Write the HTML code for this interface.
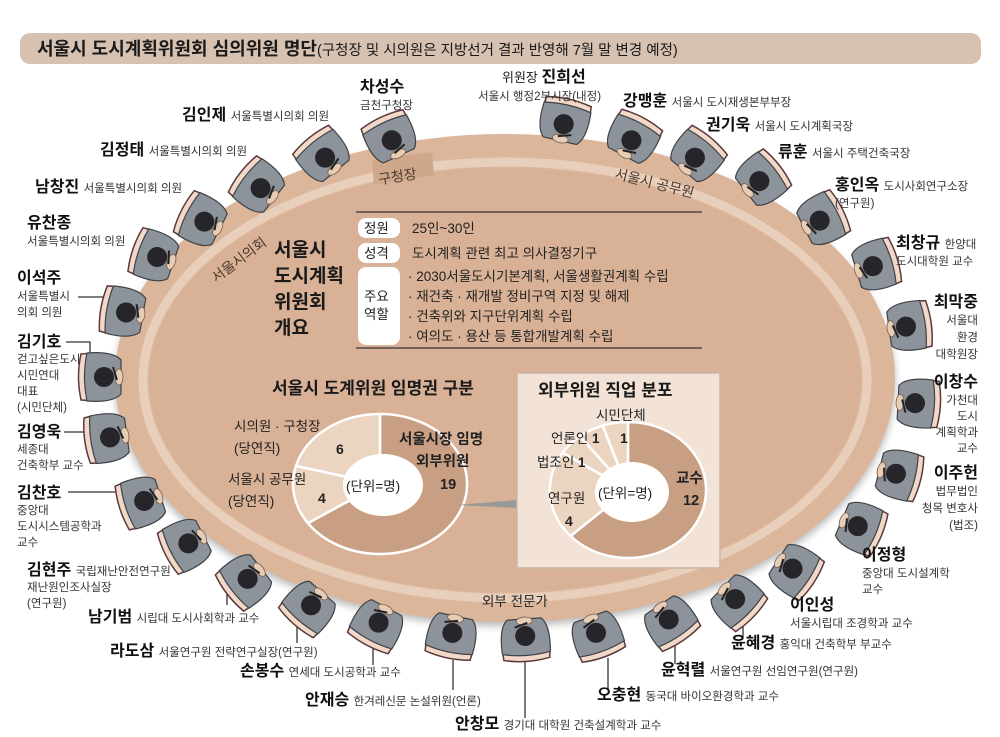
<!DOCTYPE html>
<html><head><meta charset="utf-8">
<style>
html,body{margin:0;padding:0;background:#fff;}
svg{display:block;}
text{font-family:"Liberation Sans","Noto Sans CJK KR",sans-serif;fill:#222;}
.n{font-size:16px;font-weight:bold;fill:#111;}
.d{font-size:11.5px;fill:#333;font-weight:normal;}
.t{font-size:13.5px;fill:#222;}
</style></head><body>
<svg width="1000" height="737" viewBox="0 0 1000 737" xmlns="http://www.w3.org/2000/svg">
<defs>
<g id="p">
  <path d="M-23,-26 Q-25,-6 -20,-2 L20,-2 Q25,-6 23,-26 Q0,-31 -23,-26 Z" fill="#f1d8c8" stroke="#5a3a3a" stroke-width="1.5"/>
  <path d="M-24,-20 Q-26,6 -17,14 L17,14 Q26,6 24,-20 Q0,-25 -24,-20 Z" fill="#8d939a" stroke="#3f4246" stroke-width="1.2"/>
  <circle cx="0" cy="-3" r="10" fill="#25252a"/>
  <ellipse cx="0" cy="12" rx="8" ry="4" fill="#e6cdb6" stroke="#7a5a4a" stroke-width="0.8"/>
  <line x1="-3" y1="10" x2="10" y2="6" stroke="#222" stroke-width="2"/>
</g>
<filter id="sh" x="-10%" y="-10%" width="120%" height="130%"><feGaussianBlur stdDeviation="4"/></filter>
</defs>

<rect x="20" y="33" width="961" height="31" rx="10" fill="#d7c2b1"/>
<text x="37" y="55" style="font-size:18px;font-weight:bold;fill:#1a1a1a">서울시 도시계획위원회 심의위원 명단<tspan style="font-size:14.5px;font-weight:normal">(구청장 및 시의원은 지방선거 결과 반영해 7월 말 변경 예정)</tspan></text>

<ellipse cx="505" cy="383" rx="390" ry="243" fill="#9a9a9a" filter="url(#sh)" opacity="0.7"/>
<ellipse cx="505" cy="378" rx="390" ry="244" fill="#dcb69b"/>
<ellipse cx="505" cy="380" rx="362" ry="218" fill="none" stroke="#e8cfbb" stroke-width="9"/>
<ellipse cx="505" cy="380" rx="356" ry="212" fill="#d8b196"/>
<path d="M372,160 L432,152 L434,175 L374,185 Z" fill="#cfa88c"/>
<text x="378" y="181" transform="rotate(-9 400 175)" style="font-size:14px;fill:#4a3a30">구청장</text>
<text x="612" y="186" transform="rotate(14 645 190)" style="font-size:14px;fill:#4a3a30">서울시 공무원</text>
<text x="200" y="265" transform="rotate(-37 235 250)" style="font-size:14px;fill:#4a3a30">서울시의회</text>
<text x="482" y="606" style="font-size:13.5px;fill:#222">외부 전문가</text>

<text x="274" y="256" style="font-size:19px;font-weight:bold;fill:#1a1a1a">서울시</text>
<text x="274" y="282" style="font-size:19px;font-weight:bold;fill:#1a1a1a">도시계획</text>
<text x="274" y="308" style="font-size:19px;font-weight:bold;fill:#1a1a1a">위원회</text>
<text x="274" y="334" style="font-size:19px;font-weight:bold;fill:#1a1a1a">개요</text>
<line x1="356" y1="212" x2="702" y2="212" stroke="#333" stroke-width="1.3"/>
<line x1="356" y1="348" x2="702" y2="348" stroke="#333" stroke-width="1.3"/>
<rect x="358" y="218" width="42" height="20" rx="8" fill="#fff"/>
<rect x="358" y="243" width="42" height="20" rx="8" fill="#fff"/>
<rect x="358" y="267" width="42" height="78" rx="8" fill="#fff"/>
<text x="364" y="233" class="t">정원</text>
<text x="364" y="258" class="t">성격</text>
<text x="364" y="301" class="t">주요</text>
<text x="364" y="319" class="t">역할</text>
<text x="412" y="233" class="t">25인~30인</text>
<text x="412" y="258" class="t">도시계획 관련 최고 의사결정기구</text>
<text x="408" y="281" class="t">· 2030서울도시기본계획, 서울생활권계획 수립</text>
<text x="408" y="301" class="t">· 재건축 · 재개발 정비구역 지정 및 해제</text>
<text x="408" y="321" class="t">· 건축위와 지구단위계획 수립</text>
<text x="408" y="341" class="t">· 여의도 · 용산 등 통합개발계획 수립</text>

<text x="272" y="394" style="font-size:17px;font-weight:bold;fill:#1a1a1a">서울시 도계위원 임명권 구분</text>
<g stroke="#fff" stroke-width="2.5">
<path d="M380,484 L380,414 A87,70 0 1,1 307.9,523.1 Z" fill="#c89f83"/>
<path d="M380,484 L307.9,523.1 A87,70 0 0,1 296,465.9 Z" fill="#ebd5c0"/>
<path d="M380,484 L296,465.9 A87,70 0 0,1 380,414 Z" fill="#ebd5c0"/>
</g>
<ellipse cx="383" cy="485" rx="40" ry="31" fill="#fff"/>
<text x="346" y="491" class="t">(단위=명)</text>
<text x="234" y="431" class="t">시의원 · 구청장</text>
<text x="234" y="453" class="t">(당연직)</text>
<text x="336" y="454" style="font-size:14px;font-weight:bold">6</text>
<text x="228" y="484" class="t">서울시 공무원</text>
<text x="228" y="506" class="t">(당연직)</text>
<text x="318" y="503" style="font-size:14px;font-weight:bold">4</text>
<text x="399" y="444" style="font-size:14.5px;font-weight:bold">서울시장 임명</text>
<text x="416" y="466" style="font-size:14.5px;font-weight:bold">외부위원</text>
<text x="440" y="489" style="font-size:14.5px;font-weight:bold">19</text>
<path d="M456,505 L518,500 L518,508 Z" fill="#999"/>

<rect x="517" y="373" width="203" height="195" fill="#f2e3d6" stroke="#cbb5a5" stroke-width="1.5"/>
<text x="538" y="396" style="font-size:17px;font-weight:bold;fill:#1a1a1a">외부위원 직업 분포</text>
<g stroke="#fff" stroke-width="2.5">
<path d="M628,490 L628,422 A78,68 0 1,1 570.6,536 Z" fill="#c89f83"/>
<path d="M628,490 L570.6,536 A78,68 0 0,1 562.7,452.7 Z" fill="#ebd5c0"/>
<path d="M628,490 L562.7,452.7 A78,68 0 0,1 580.1,436.3 Z" fill="#ebd5c0"/>
<path d="M628,490 L580.1,436.3 A78,68 0 0,1 602.7,425.7 Z" fill="#ebd5c0"/>
<path d="M628,490 L602.7,425.7 A78,68 0 0,1 628,422 Z" fill="#ebd5c0"/>
</g>
<ellipse cx="632" cy="492" rx="37" ry="30" fill="#fff"/>
<text x="598" y="498" class="t">(단위=명)</text>
<text x="596" y="420" class="t">시민단체</text>
<text x="551" y="443" class="t">언론인 <tspan font-weight="bold">1</tspan></text>
<text x="620" y="443" style="font-size:14px;font-weight:bold">1</text>
<text x="537" y="467" class="t">법조인 <tspan font-weight="bold">1</tspan></text>
<text x="548" y="503" class="t">연구원</text>
<text x="565" y="526" style="font-size:14px;font-weight:bold">4</text>
<text x="676" y="483" style="font-size:14.5px;font-weight:bold">교수</text>
<text x="683" y="505" style="font-size:14.5px;font-weight:bold">12</text>

<g stroke="#333" stroke-width="1.3" fill="none">
<line x1="78" y1="297" x2="110" y2="297"/>
<polyline points="66,342 90,342 90,360"/>
<line x1="64" y1="432" x2="95" y2="432"/>
<line x1="68" y1="492" x2="122" y2="492"/>
<line x1="227" y1="588" x2="227" y2="605"/>
<line x1="297" y1="625" x2="297" y2="643"/>
<line x1="373" y1="648" x2="373" y2="665"/>
<line x1="453" y1="660" x2="453" y2="690"/>
<line x1="525" y1="662" x2="525" y2="718"/>
<line x1="608" y1="658" x2="608" y2="690"/>
<line x1="675" y1="638" x2="675" y2="664"/>
<line x1="743" y1="617" x2="743" y2="637"/>
</g>

<use href="#p" transform="translate(327,160) rotate(-39)"/>
<use href="#p" transform="translate(263,190) rotate(-52)"/>
<use href="#p" transform="translate(207,223) rotate(-63)"/>
<use href="#p" transform="translate(160,258) rotate(-71)"/>
<use href="#p" transform="translate(129,313) rotate(-80)"/>
<use href="#p" transform="translate(107,377) rotate(-90)"/>
<use href="#p" transform="translate(113,437) rotate(-98)"/>
<use href="#p" transform="translate(147,500) rotate(-108)"/>
<use href="#p" transform="translate(191,542) rotate(-117)"/>
<use href="#p" transform="translate(250,577) rotate(-128)"/>
<use href="#p" transform="translate(313,603) rotate(-139)"/>
<use href="#p" transform="translate(380,620) rotate(-152)"/>
<use href="#p" transform="translate(453,630) rotate(-168)"/>
<use href="#p" transform="translate(525,633) rotate(-184)"/>
<use href="#p" transform="translate(595,630) rotate(-200)"/>
<use href="#p" transform="translate(667,617) rotate(-214)"/>
<use href="#p" transform="translate(733,597) rotate(-226)"/>
<use href="#p" transform="translate(790,567) rotate(-237)"/>
<use href="#p" transform="translate(855,525) rotate(-247)"/>
<use href="#p" transform="translate(893,473) rotate(-256)"/>
<use href="#p" transform="translate(912,403) rotate(-267)"/>
<use href="#p" transform="translate(903,327) rotate(82)"/>
<use href="#p" transform="translate(870,267) rotate(73)"/>
<use href="#p" transform="translate(817,222) rotate(63)"/>
<use href="#p" transform="translate(757,183) rotate(52)"/>
<use href="#p" transform="translate(693,160) rotate(40)"/>
<use href="#p" transform="translate(630,143) rotate(28)"/>
<use href="#p" transform="translate(563,127) rotate(13)"/>
<use href="#p" transform="translate(393,143) rotate(-25)"/>

<text x="360" y="92" class="n">차성수</text>
<text x="360" y="109" class="d">금천구청장</text>
<text x="502" y="82" style="font-size:13px">위원장 <tspan class="n">진희선</tspan></text>
<text x="478" y="100" class="d">서울시 행정2부시장(내정)</text>
<text x="623" y="106" class="n">강맹훈 <tspan class="d">서울시 도시재생본부부장</tspan></text>
<text x="706" y="130" class="n">권기욱 <tspan class="d">서울시 도시계획국장</tspan></text>
<text x="778" y="157" class="n">류훈 <tspan class="d">서울시 주택건축국장</tspan></text>
<text x="835" y="190" class="n">홍인옥 <tspan class="d">도시사회연구소장</tspan></text>
<text x="835" y="207" class="d">(연구원)</text>
<text x="896" y="248" class="n">최창규 <tspan class="d">한양대</tspan></text>
<text x="896" y="265" class="d">도시대학원 교수</text>
<g text-anchor="end">
<text x="978" y="307" class="n">최막중</text>
<text x="978" y="324" class="d">서울대</text>
<text x="978" y="341" class="d">환경</text>
<text x="978" y="358" class="d">대학원장</text>
<text x="978" y="387" class="n">이창수</text>
<text x="978" y="404" class="d">가천대</text>
<text x="978" y="420" class="d">도시</text>
<text x="978" y="436" class="d">계획학과</text>
<text x="978" y="452" class="d">교수</text>
<text x="978" y="478" class="n">이주헌</text>
<text x="978" y="495" class="d">법무법인</text>
<text x="978" y="512" class="d">청목 변호사</text>
<text x="978" y="529" class="d">(법조)</text>
</g>
<text x="862" y="560" class="n">이정형</text>
<text x="862" y="577" class="d">중앙대 도시설계학</text>
<text x="862" y="593" class="d">교수</text>
<text x="790" y="610" class="n">이인성</text>
<text x="790" y="627" class="d">서울시립대 조경학과 교수</text>
<text x="731" y="648" class="n">윤혜경 <tspan class="d">홍익대 건축학부 부교수</tspan></text>
<text x="661" y="675" class="n">윤혁렬 <tspan class="d">서울연구원 선임연구원(연구원)</tspan></text>
<text x="597" y="700" class="n">오충현 <tspan class="d">동국대 바이오환경학과 교수</tspan></text>
<text x="455" y="729" class="n">안창모 <tspan class="d">경기대 대학원 건축설계학과 교수</tspan></text>
<text x="305" y="705" class="n">안재승 <tspan class="d">한겨레신문 논설위원(언론)</tspan></text>
<text x="240" y="676" class="n">손봉수 <tspan class="d">연세대 도시공학과 교수</tspan></text>
<text x="110" y="656" class="n">라도삼 <tspan class="d">서울연구원 전략연구실장(연구원)</tspan></text>
<text x="88" y="622" class="n">남기범 <tspan class="d">시립대 도시사회학과 교수</tspan></text>
<text x="27" y="575" class="n">김현주 <tspan class="d">국립재난안전연구원</tspan></text>
<text x="27" y="591" class="d">재난원인조사실장</text>
<text x="27" y="607" class="d">(연구원)</text>
<text x="17" y="498" class="n">김찬호</text>
<text x="17" y="514" class="d">중앙대</text>
<text x="17" y="530" class="d">도시시스템공학과</text>
<text x="17" y="546" class="d">교수</text>
<text x="17" y="437" class="n">김영욱</text>
<text x="17" y="453" class="d">세종대</text>
<text x="17" y="469" class="d">건축학부 교수</text>
<text x="17" y="347" class="n">김기호</text>
<text x="17" y="363" class="d">걷고싶은도시</text>
<text x="17" y="379" class="d">시민연대</text>
<text x="17" y="395" class="d">대표</text>
<text x="17" y="411" class="d">(시민단체)</text>
<text x="17" y="283" class="n">이석주</text>
<text x="17" y="300" class="d">서울특별시</text>
<text x="17" y="316" class="d">의회 의원</text>
<text x="27" y="228" class="n">유찬종</text>
<text x="27" y="245" class="d">서울특별시의회 의원</text>
<text x="35" y="192" class="n">남창진 <tspan class="d">서울특별시의회 의원</tspan></text>
<text x="100" y="155" class="n">김정태 <tspan class="d">서울특별시의회 의원</tspan></text>
<text x="182" y="120" class="n">김인제 <tspan class="d">서울특별시의회 의원</tspan></text>
</svg>
</body></html>
